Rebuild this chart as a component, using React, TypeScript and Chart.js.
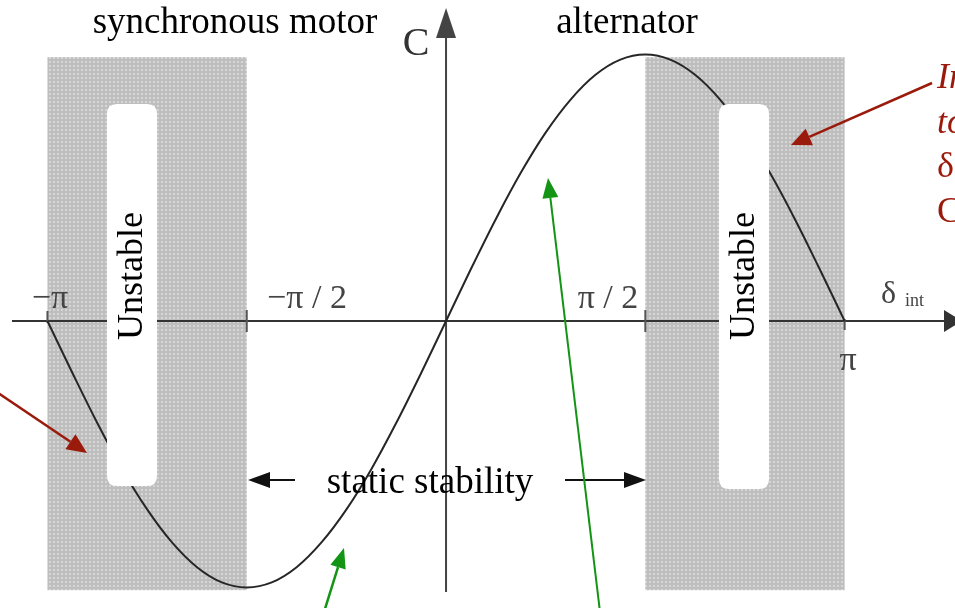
import React, { useEffect, useRef } from "react";
import { Chart, registerables } from "chart.js";
Chart.register(...registerables);

// load angle δ (rad) and torque C (normalised)
const deltaValues = [-3.142, -2.945, -2.749, -2.553, -2.356, -2.16, -1.963, -1.767, -1.571, -1.374, -1.178, -0.982, -0.785, -0.589, -0.393, -0.196, 0, 0.196, 0.393, 0.589, 0.785, 0.982, 1.178, 1.374, 1.571, 1.767, 1.963, 2.16, 2.356, 2.553, 2.749, 2.945, 3.142];
const torqueValues = [0, -0.195, -0.383, -0.556, -0.707, -0.831, -0.924, -0.981, -1, -0.981, -0.924, -0.831, -0.707, -0.556, -0.383, -0.195, 0, 0.195, 0.383, 0.556, 0.707, 0.831, 0.924, 0.981, 1, 0.981, 0.924, 0.831, 0.707, 0.556, 0.383, 0.195, 0];
const tickValues = [-3.142, -1.571, 1.571, 3.142];
const tickLabels = ["−π", "−π / 2", "π / 2", "π"];
const unstableFrom = [-3.142, 1.571];
const unstableTo = [-1.571, 3.142];
const unstableLabel = "Unstable";
const regionLabels = ["synchronous motor", "alternator"];
const staticLabel = "static stability";
const noteLines = ["In", "to", "δ", "C"];

const SERIF = '"Liberation Serif", "Times New Roman", serif';

function makePattern(ctx: CanvasRenderingContext2D) {
  const c = document.createElement("canvas");
  c.width = 4;
  c.height = 4;
  const p = c.getContext("2d")!;
  p.fillStyle = "#bebebe";
  p.fillRect(0, 0, 4, 4);
  p.fillStyle = "#d6d6d6";
  p.fillRect(1, 1, 2, 2);
  return ctx.createPattern(c, "repeat")!;
}

function arrow(ctx: CanvasRenderingContext2D, x1: number, y1: number, x2: number, y2: number, color: string, lw: number, hl: number, hw: number) {
  const a = Math.atan2(y2 - y1, x2 - x1);
  const bx = x2 - hl * Math.cos(a);
  const by = y2 - hl * Math.sin(a);
  ctx.save();
  ctx.strokeStyle = color;
  ctx.fillStyle = color;
  ctx.lineWidth = lw;
  ctx.beginPath();
  ctx.moveTo(x1, y1);
  ctx.lineTo(bx, by);
  ctx.stroke();
  ctx.beginPath();
  ctx.moveTo(x2, y2);
  ctx.lineTo(bx + hw * Math.sin(a), by - hw * Math.cos(a));
  ctx.lineTo(bx - hw * Math.sin(a), by + hw * Math.cos(a));
  ctx.closePath();
  ctx.fill();
  ctx.restore();
}

function roundRect(ctx: CanvasRenderingContext2D, x: number, y: number, w: number, h: number, r: number) {
  ctx.beginPath();
  ctx.moveTo(x + r, y);
  ctx.lineTo(x + w - r, y);
  ctx.quadraticCurveTo(x + w, y, x + w, y + r);
  ctx.lineTo(x + w, y + h - r);
  ctx.quadraticCurveTo(x + w, y + h, x + w - r, y + h);
  ctx.lineTo(x + r, y + h);
  ctx.quadraticCurveTo(x, y + h, x, y + h - r);
  ctx.lineTo(x, y + r);
  ctx.quadraticCurveTo(x, y, x + r, y);
  ctx.closePath();
}

const backgroundPlugin = {
  id: "background",
  beforeDatasetsDraw(chart: any) {
    const ctx: CanvasRenderingContext2D = chart.ctx;
    const xs = chart.scales.x;
    const ys = chart.scales.y;
    ctx.save();
    ctx.fillStyle = makePattern(ctx);
    const top = ys.getPixelForValue(0.99);
    const bot = ys.getPixelForValue(-1.01);
    unstableFrom.forEach((f, i) => {
      const x1 = xs.getPixelForValue(f);
      const x2 = xs.getPixelForValue(unstableTo[i]);
      ctx.fillRect(x1, top, x2 - x1, bot - top);
    });
    const x0 = xs.getPixelForValue(0);
    const y0 = ys.getPixelForValue(0);
    // x axis
    arrow(ctx, 12, y0, 962, y0, "#333", 2, 18, 11);
    // y axis
    arrow(ctx, x0, 592, x0, 8, "#444", 2, 30, 10);
    // ticks
    ctx.strokeStyle = "#555";
    ctx.lineWidth = 2;
    tickValues.forEach((t, i) => {
      const px = xs.getPixelForValue(t);
      ctx.beginPath();
      if (i === 0) { ctx.moveTo(px, y0 - 10); ctx.lineTo(px, y0 + 2); }
      else if (i === 3) { ctx.moveTo(px, y0 - 2); ctx.lineTo(px, y0 + 9); }
      else { ctx.moveTo(px, y0 - 11); ctx.lineTo(px, y0 + 11); }
      ctx.stroke();
    });
    ctx.restore();
  },
  afterDatasetsDraw(chart: any) {
    const ctx: CanvasRenderingContext2D = chart.ctx;
    ctx.save();
    // white boxes with Unstable
    const boxes = [
      { x: 107, y: 104, w: 50, h: 382 },
      { x: 719, y: 104, w: 50, h: 385 },
    ];
    boxes.forEach((b) => {
      ctx.fillStyle = "#fff";
      roundRect(ctx, b.x, b.y, b.w, b.h, 10);
      ctx.fill();
      ctx.save();
      ctx.translate(b.x + b.w / 2 + 1, 276);
      ctx.rotate(-Math.PI / 2);
      ctx.fillStyle = "#000";
      ctx.font = `36px ${SERIF}`;
      ctx.textAlign = "center";
      ctx.textBaseline = "middle";
      ctx.fillText(unstableLabel, 0, 0);
      ctx.restore();
    });

    ctx.textAlign = "center";
    ctx.textBaseline = "alphabetic";
    // header labels
    ctx.fillStyle = "#000";
    ctx.font = `37px ${SERIF}`;
    ctx.fillText(regionLabels[0], 235, 33);
    ctx.fillText(regionLabels[1], 627, 33);
    ctx.fillStyle = "#333";
    ctx.font = `40px ${SERIF}`;
    ctx.fillText("C", 416, 55);

    // tick labels
    ctx.fillStyle = "#444";
    ctx.font = `34px ${SERIF}`;
    const tickPos = [
      [50, 308],
      [307, 308],
      [608, 308],
      [848, 370],
    ];
    tickLabels.forEach((l, i) => {
      ctx.fillText(l, tickPos[i][0], tickPos[i][1]);
    });
    // delta int
    ctx.textAlign = "left";
    ctx.font = `32px ${SERIF}`;
    ctx.fillText("δ", 881, 303);
    ctx.font = `18px ${SERIF}`;
    ctx.fillText("int", 905, 306);

    // static stability
    ctx.fillStyle = "#000";
    ctx.textAlign = "center";
    ctx.font = `37px ${SERIF}`;
    ctx.fillText(staticLabel, 430, 493);
    arrow(ctx, 295, 480, 248, 480, "#111", 2, 22, 8);
    arrow(ctx, 565, 480, 646, 480, "#111", 2, 22, 8);

    // red note
    ctx.fillStyle = "#9a1a0c";
    ctx.textAlign = "left";
    noteLines.forEach((l, i) => {
      ctx.font = i < 2 ? `italic 36px ${SERIF}` : `36px ${SERIF}`;
      ctx.fillText(l, 937, 88 + i * 44.5);
    });
    arrow(ctx, 932, 83, 791, 145, "#9a1a0c", 2.5, 20, 9);
    arrow(ctx, -2, 393, 87, 453, "#9a1a0c", 2.5, 20, 9);

    // green arrows
    arrow(ctx, 324, 612, 344, 548, "#149414", 2.5, 20, 8);
    arrow(ctx, 600, 612, 548, 178, "#149414", 2, 20, 8);
    ctx.restore();
  },
};

export default function App() {
  const ref = useRef<HTMLCanvasElement>(null);
  useEffect(() => {
    if (!ref.current) return;
    const chart = new Chart(ref.current, {
      type: "line",
      data: {
        datasets: [
          {
            data: deltaValues.map((d, i) => ({ x: d, y: torqueValues[i] })),
            borderColor: "#262626",
            borderWidth: 2,
            pointRadius: 0,
            tension: 0.35,
            fill: false,
          },
        ],
      },
      options: {
        animation: false,
        responsive: false,
        maintainAspectRatio: false,
        layout: { padding: 0 },
        plugins: { legend: { display: false }, tooltip: { enabled: false } },
        scales: {
          x: { type: "linear", min: -3.516, max: 4.012, display: false },
          y: { type: "linear", min: -1.0769, max: 1.2045, display: false },
        },
      },
      plugins: [backgroundPlugin],
    });
    return () => chart.destroy();
  }, []);
  return (
    <div style={{ position: "absolute", left: 0, top: 0, width: 955, height: 608, background: "#fff" }}>
      <canvas ref={ref} width={955} height={608} style={{ display: "block" }} />
    </div>
  );
}
